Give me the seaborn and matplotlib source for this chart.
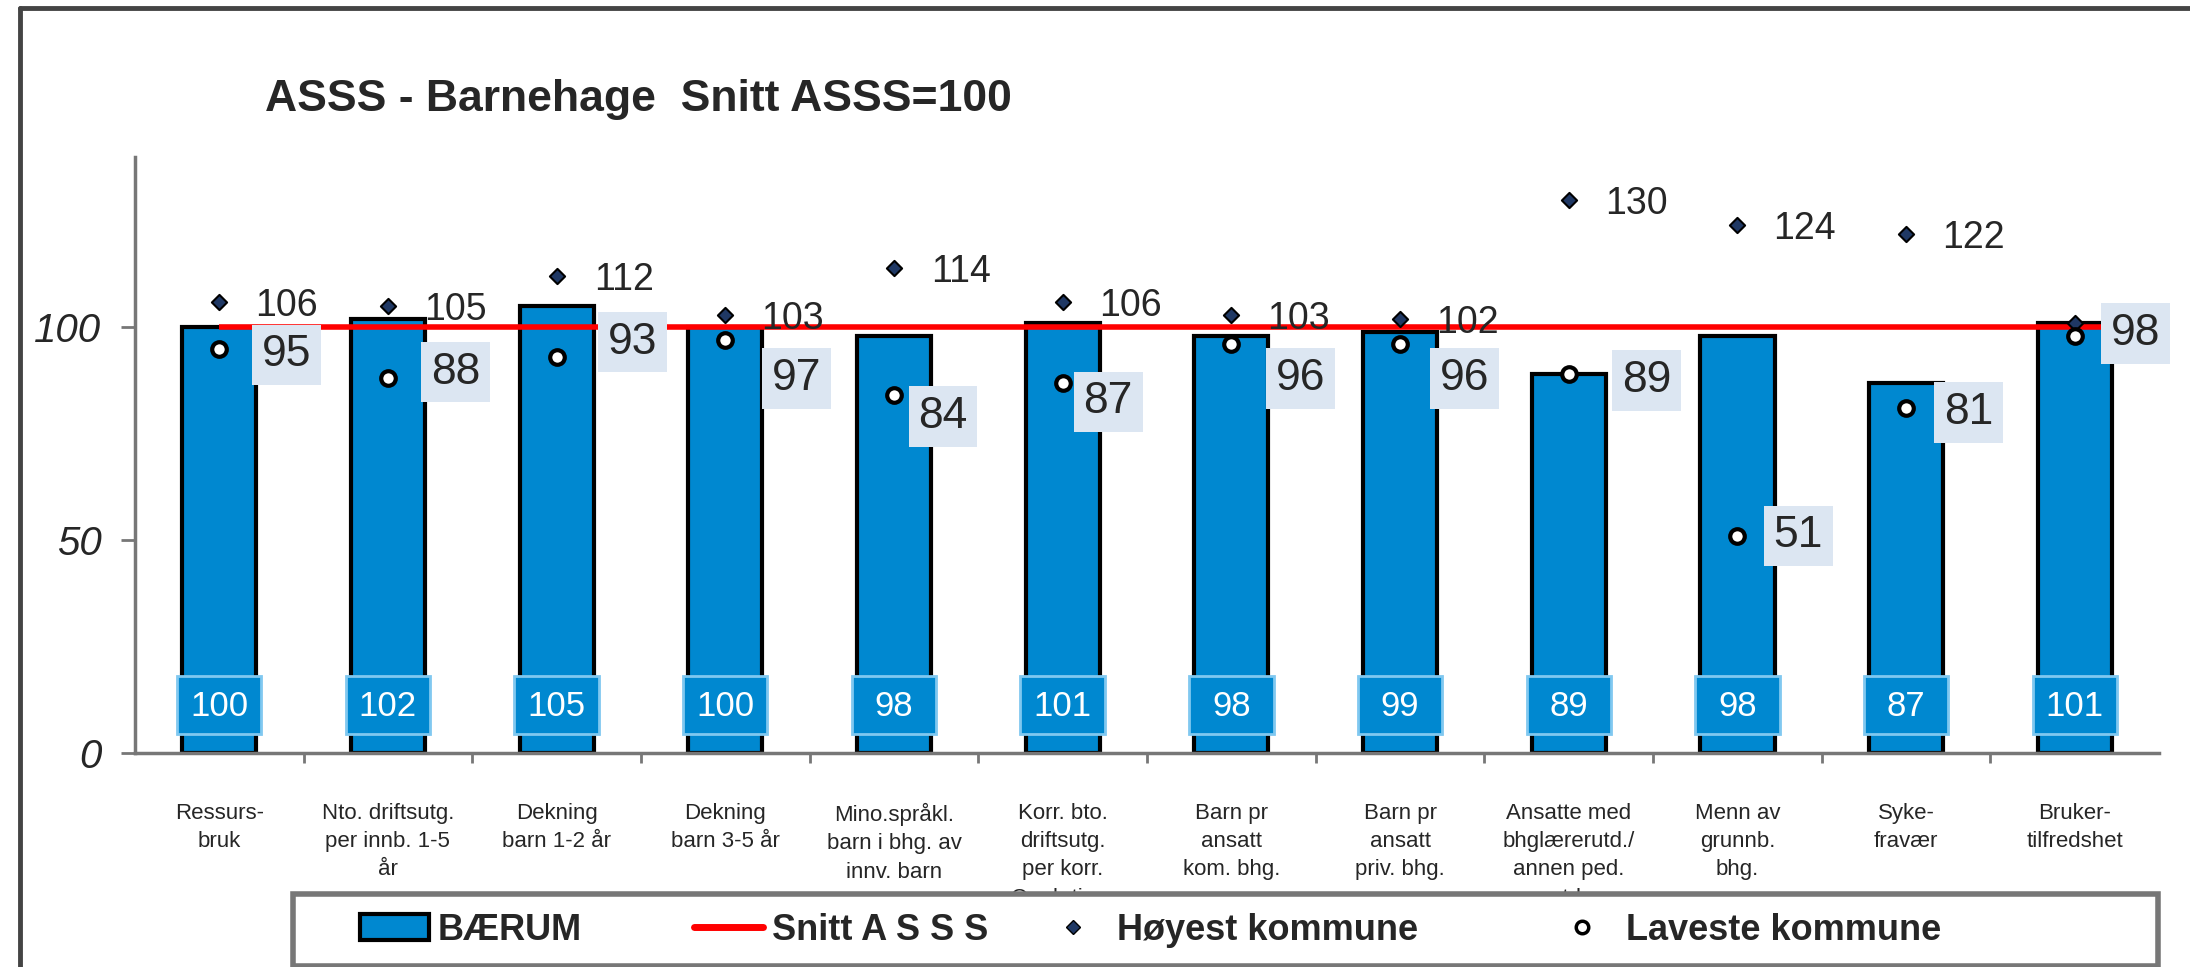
import matplotlib
matplotlib.use("Agg")
import matplotlib.pyplot as plt
import numpy as np
import seaborn as sns
from matplotlib.patches import Patch, Rectangle
from matplotlib.lines import Line2D

categories = [
    "Ressurs-\nbruk",
    "Nto. driftsutg.\nper innb. 1-5\når",
    "Dekning\nbarn 1-2 år",
    "Dekning\nbarn 3-5 år",
    "Mino.språkl.\nbarn i bhg. av\ninnv. barn",
    "Korr. bto.\ndriftsutg.\nper korr.\nOpph.time",
    "Barn pr\nansatt\nkom. bhg.",
    "Barn pr\nansatt\npriv. bhg.",
    "Ansatte med\nbhglærerutd./\nannen ped.\nutd.",
    "Menn av\ngrunnb.\nbhg.",
    "Syke-\nfravær",
    "Bruker-\ntilfredshet",
]
baerum = [100, 102, 105, 100, 98, 101, 98, 99, 89, 98, 87, 101]
highest = [106, 105, 112, 103, 114, 106, 103, 102, 130, 124, 122, 101]
highest_labelled = [True] * 11 + [False]
lowest = [95, 88, 93, 97, 84, 87, 96, 96, 89, 51, 81, 98]
snitt = 100

BLUE = "#0088d0"

sns.set_style("white")
plt.rcParams["font.family"] = ["Liberation Sans", "DejaVu Sans"]

fig = plt.figure(figsize=(21.9, 9.67), dpi=100)
ax = fig.add_axes([0.0616, 0.2213, 0.9243, 0.6163])

sns.barplot(x=categories, y=baerum, color=BLUE, saturation=1, width=0.44,
            edgecolor="black", linewidth=3, ax=ax, zorder=2)

n = len(categories)
pos = np.arange(n)

# snitt line from first category to the right edge
ax.hlines(snitt, 0, n - 0.5, color="#ff0000", lw=4, zorder=3)

ax.scatter(pos, highest, marker="D", s=60, color="#1f3864",
           edgecolors="black", linewidths=1.5, zorder=5)
ax.scatter(pos, lowest, marker="o", s=110, color="white",
           edgecolors="black", linewidths=3, zorder=5)

# label placement as in the original (labels were nudged by hand there)
low_dx = [0.40, 0.40, 0.45, 0.42, 0.29, 0.27, 0.41, 0.38, 0.46, 0.36, 0.37, 0.36]
low_dy = [-1.5, 1.5, 3.5, -9, -5, -4.5, -8, -8, -1.5, 0, -1, 0.5]

for i in range(n):
    if highest_labelled[i]:
        ax.text(i + 0.40, highest[i] - 1, str(highest[i]), ha="center",
                va="center", fontsize=27, zorder=6)
    ax.text(i + low_dx[i], lowest[i] + low_dy[i], str(lowest[i]), ha="center",
            va="center", fontsize=32, zorder=6,
            bbox=dict(boxstyle="square,pad=0.22", fc="#dce6f2", ec="none"))
    ax.add_patch(Rectangle((i - 0.25, 4.5), 0.5, 13.5, fc=BLUE, ec="#80c8f0",
                           lw=2, zorder=6))
    ax.text(i, 11.0, str(baerum[i]), ha="center", va="center", color="white",
            fontsize=25, zorder=7)

ax.set_xlim(-0.5, n - 0.5)
ax.set_ylim(0, 140)
ax.set_yticks([0, 50, 100])
ax.set_yticklabels(["0", "50", "100"], fontstyle="italic", fontsize=29)
ax.tick_params(axis="y", length=10, width=2, color="#777777", pad=14, left=True)
ax.set_xticks(pos[:-1] + 0.5, minor=True)
ax.tick_params(axis="x", which="major", length=0, pad=36, labelsize=16)
ax.tick_params(axis="x", which="minor", length=7, width=2, color="#777777",
               bottom=True, direction="out")
for lbl in ax.get_xticklabels():
    lbl.set_linespacing(1.45)
ax.set_xlabel("")
ax.set_ylabel("")

for side in ["top", "right"]:
    ax.spines[side].set_visible(False)
for side in ["left", "bottom"]:
    ax.spines[side].set_color("#777777")
    ax.spines[side].set_linewidth(2.5)

fig.text(265 / 2190, 1 - 100 / 967, "ASSS - Barnehage  Snitt ASSS=100",
         fontsize=32, fontweight="bold", ha="left", va="center")

# legend box (covers the bottom of the longest tick labels, as in the original)
fig.add_artist(Rectangle((293 / 2190, 1 - 966 / 967), (2158 - 293) / 2190,
                         (966 - 894) / 967, transform=fig.transFigure,
                         fc="white", ec="#777777", lw=4, zorder=4))

handles = [
    Patch(facecolor=BLUE, edgecolor="black", linewidth=3),
    Line2D([], [], color="#ff0000", lw=5),
    Line2D([], [], ls="none", marker="D", markersize=7, color="#1f3864",
           markeredgecolor="black"),
    Line2D([], [], ls="none", marker="o", markersize=9, color="white",
           markeredgecolor="black", markeredgewidth=2.5),
]
labels = ["BÆRUM", "Snitt A S S S", "Høyest kommune", "Laveste kommune"]
legend_x = [360, 694, 1039, 1548]
for h, lab, lx in zip(handles, labels, legend_x):
    leg = fig.legend([h], [lab], loc="center left",
                     bbox_to_anchor=(lx / 2190, 1 - 930 / 967),
                     frameon=False, prop={"weight": "bold", "size": 26},
                     handlelength=1.9, handletextpad=0.25, borderpad=0,
                     borderaxespad=0)
    leg.set_zorder(5)

# outer chart frame (left and top edges visible)
fig.add_artist(Line2D([20 / 2190, 20 / 2190], [0, 1 - 8 / 967],
                      transform=fig.transFigure, color="#444444", lw=3.5))
fig.add_artist(Line2D([20 / 2190, 1], [1 - 8 / 967, 1 - 8 / 967],
                      transform=fig.transFigure, color="#444444", lw=3.5))

fig.savefig("out.png", dpi=100)
